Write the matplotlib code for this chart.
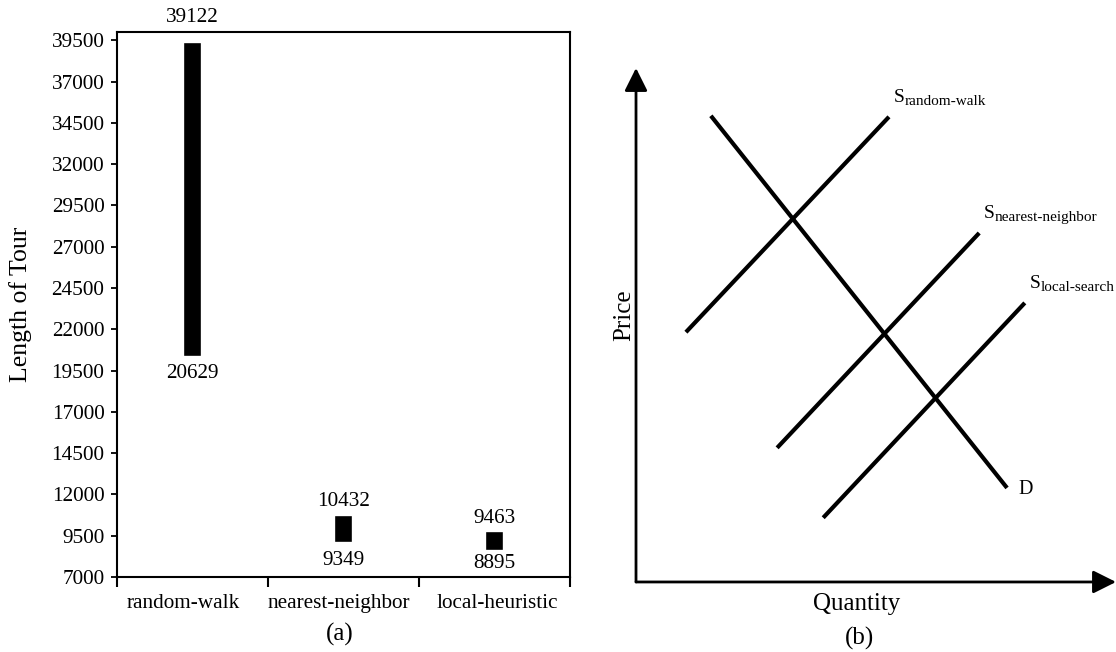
import matplotlib.pyplot as plt
import numpy as np

plt.rcParams['font.family'] = ['Liberation Serif', 'DejaVu Serif']

# (a) tour lengths per heuristic: min and max over runs
methods = ['random-walk', 'nearest-neighbor', 'local-heuristic']
tour_min = [20629, 9349, 8895]
tour_max = [39122, 10432, 9463]
y_ticks = list(range(7000, 40000, 2500))

# (b) supply / demand sketch, endpoints in (quantity, price)
demand_q = [1.56, 7.73]
demand_p = [9.07, 1.83]
supply_names = ['random-walk', 'nearest-neighbor', 'local-search']
supply_q = [[1.04, 5.27], [2.94, 7.15], [3.90, 8.10]]
supply_p = [[4.86, 9.05], [2.61, 6.79], [1.25, 5.43]]

fig = plt.figure(figsize=(11.16, 6.52), dpi=100)

# ---- panel (a) ----
ax = fig.add_axes([0.1048, 0.1150, 0.4060, 0.8359])
centers = np.arange(len(methods)) + 0.5
# thick outline so the short ranges still show as solid blocks
ax.bar(centers, np.array(tour_max) - np.array(tour_min), bottom=tour_min,
       width=0.06, color='black', edgecolor='black', linewidth=5.5)

# label offsets (points) from the bar ends
top_off = [21, 13.5, 12.5]
bot_off = [15.5, 16, 13]
for i in range(len(methods)):
    ax.annotate(str(tour_max[i]), xy=(centers[i], tour_max[i]), xytext=(0, top_off[i]),
                textcoords='offset points', ha='center', va='center', fontsize=15.3,
                annotation_clip=False)
    ax.annotate(str(tour_min[i]), xy=(centers[i], tour_min[i]), xytext=(0, -bot_off[i]),
                textcoords='offset points', ha='center', va='center', fontsize=15.3)

ax.set_xlim(0, 3)
ax.set_ylim(7000, 40000)
ax.set_yticks(y_ticks)
ax.set_yticklabels([str(v) for v in y_ticks], fontsize=15.3)
ax.tick_params(axis='y', direction='out', length=4, width=1.3, pad=5)
ax.set_xticks([0, 1, 2, 3])
ax.set_xticklabels([])
ax.tick_params(axis='x', which='major', direction='out', length=7, width=1.5)
ax.set_xticks([0.44, 1.47, 2.52], minor=True)
ax.set_xticklabels(methods, minor=True, fontsize=15.3)
ax.tick_params(axis='x', which='minor', length=0, pad=12)
for s in ax.spines.values():
    s.set_linewidth(1.5)
ax.set_ylabel('Length of Tour', fontsize=18.5, labelpad=14)
fig.text(340 / 1116, 1 - 634 / 652, '(a)', ha='center', va='center', fontsize=18)

# ---- panel (b) ----
bx = fig.add_axes([0.5699, 0.1074, 0.4301, 0.7883])
bx.set_xlim(0, 10)
bx.set_ylim(0, 10)
bx.axis('off')
arrow = dict(arrowstyle='-|>', lw=2, color='black', mutation_scale=35,
             shrinkA=0, shrinkB=0)
bx.annotate('', xy=(0, 10), xytext=(0, 0), arrowprops=arrow, annotation_clip=False)
bx.annotate('', xy=(10, 0), xytext=(0, 0), arrowprops=arrow, annotation_clip=False)

bx.plot(demand_q, demand_p, color='black', lw=3, solid_capstyle='butt')
bx.text(demand_q[1] + 0.23, demand_p[1] - 0.04, 'D', fontsize=14.5, va='center', ha='left')

for name, q, p in zip(supply_names, supply_q, supply_p):
    bx.plot(q, p, color='black', lw=3, solid_capstyle='butt')
    bx.text(q[1] + 0.1, p[1] + 0.38, 'S', fontsize=14, va='center', ha='left')
    bx.annotate(name, xy=(q[1] + 0.1, p[1] + 0.38), xytext=(7.8, -3),
                textcoords='offset points', fontsize=11, va='center', ha='left')

bx.text(-0.25, 5.2, 'Price', rotation=90, fontsize=18, ha='center', va='center')
bx.text(4.6, -0.42, 'Quantity', fontsize=18, ha='center', va='center')
fig.text(860 / 1116, 1 - 638 / 652, '(b)', ha='center', va='center', fontsize=18)

fig.savefig('out.png', dpi=100)
